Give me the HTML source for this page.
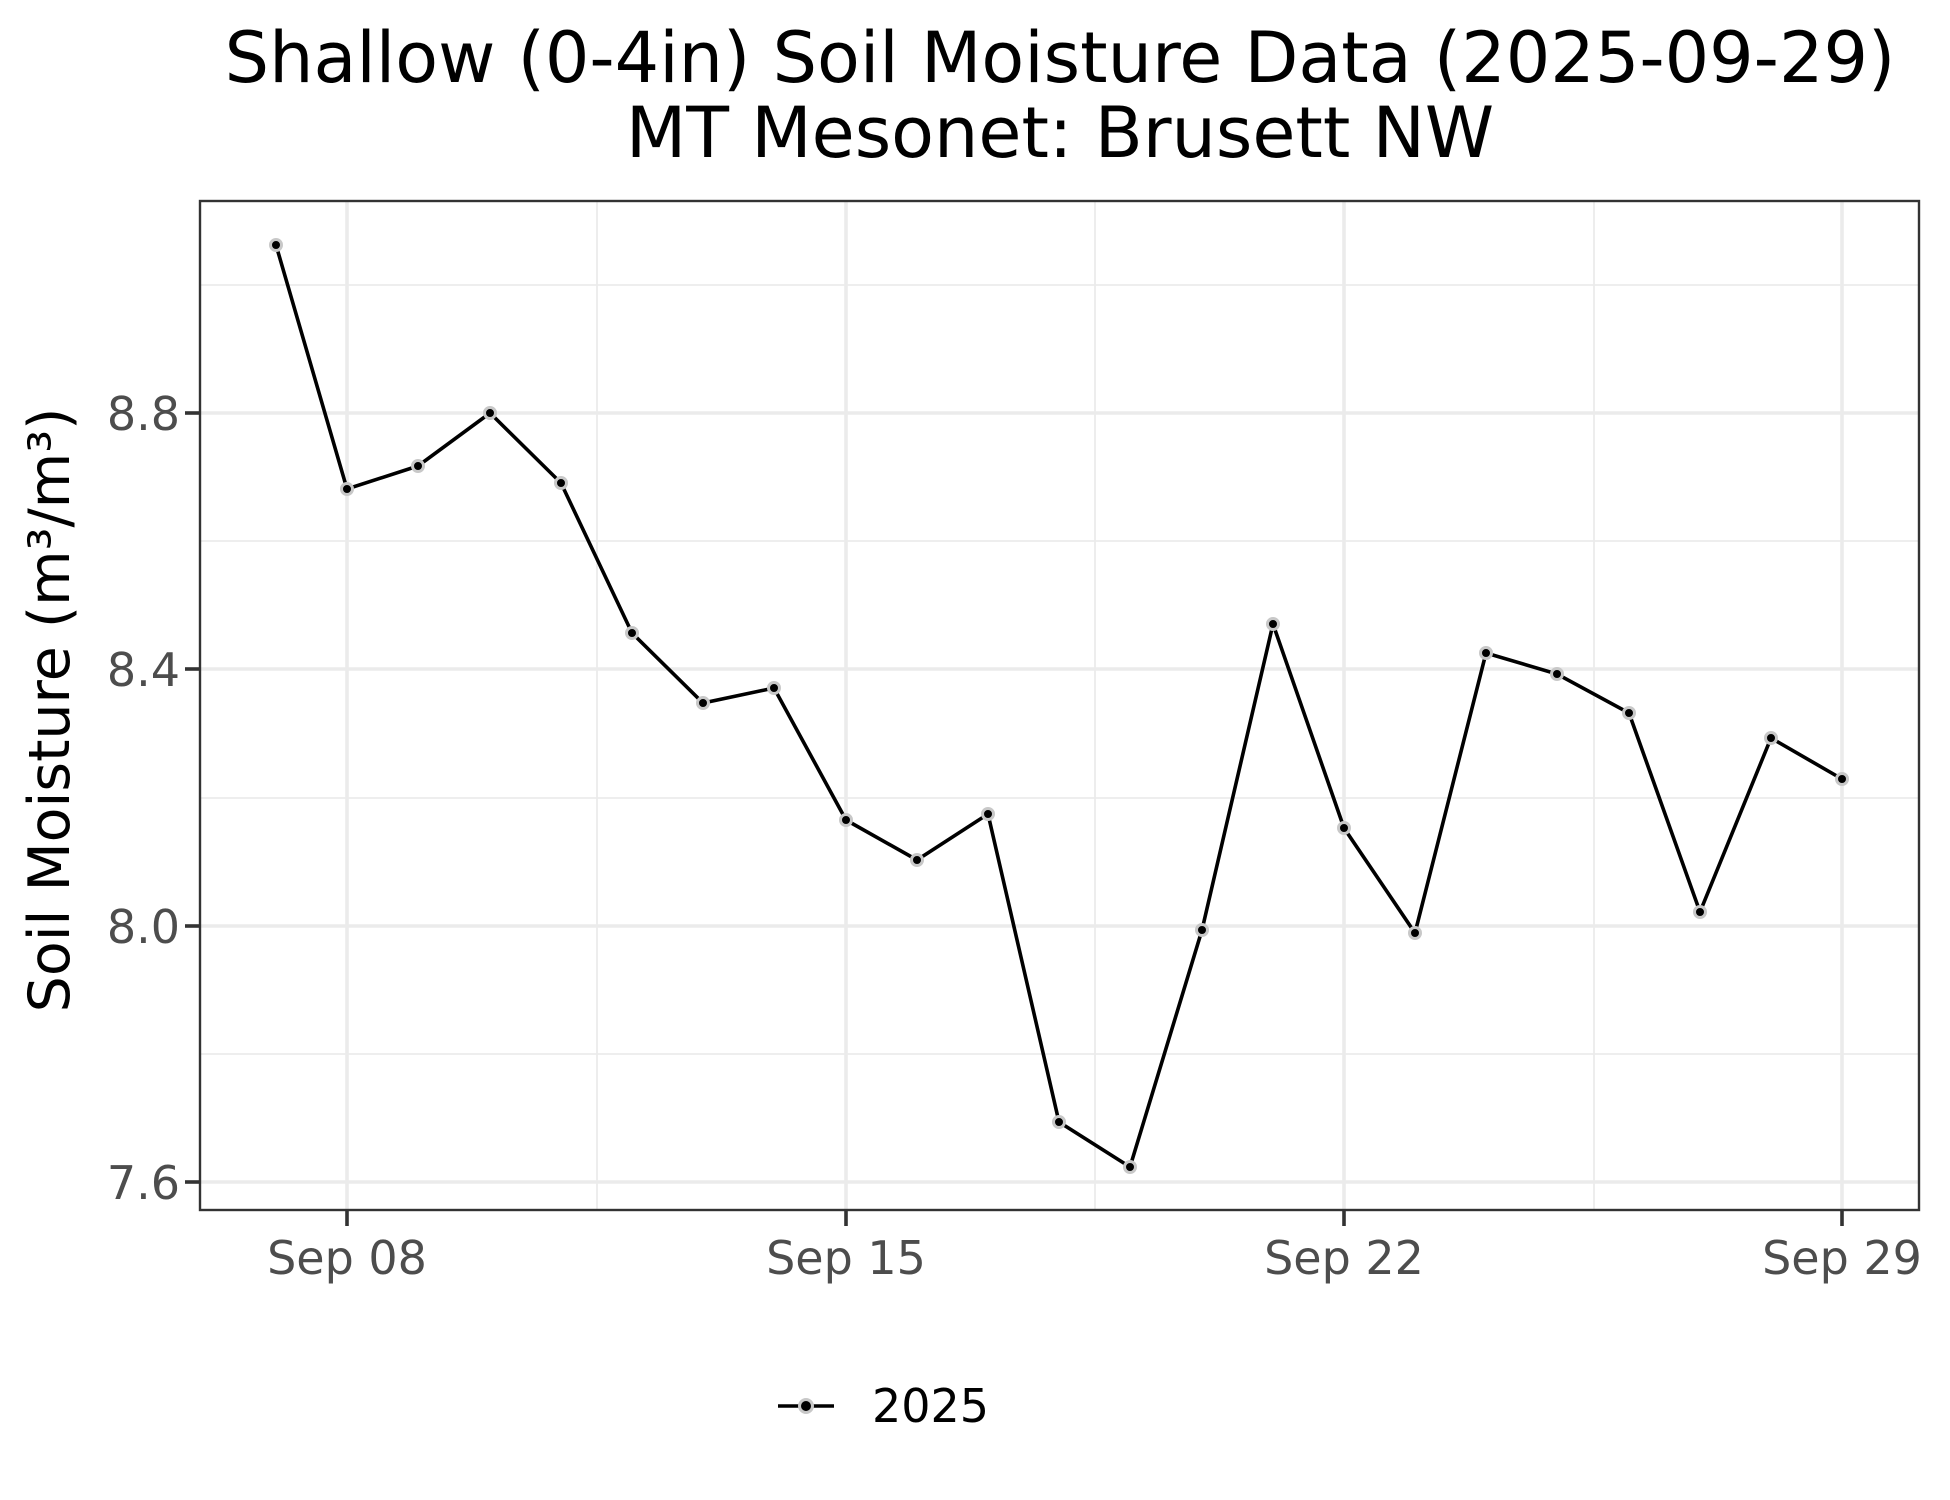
<!DOCTYPE html>
<html><head><meta charset="utf-8"><style>body{margin:0;background:#fff}svg{display:block}</style></head>
<body>
<svg width="1950" height="1500" xmlns="http://www.w3.org/2000/svg" font-family="DejaVu Sans, Liberation Sans, sans-serif">
<rect width="1950" height="1500" fill="#fff"/>
<text x="1060" y="82" font-size="70" text-anchor="middle" fill="#000">Shallow (0-4in) Soil Moisture Data (2025-09-29)</text>
<text x="1060" y="157" font-size="70" text-anchor="middle" fill="#000">MT Mesonet: Brusett NW</text>
<g stroke="#ebebeb" stroke-width="1.8">
<line x1="200" x2="1919" y1="285" y2="285"/>
<line x1="200" x2="1919" y1="541" y2="541"/>
<line x1="200" x2="1919" y1="798" y2="798"/>
<line x1="200" x2="1919" y1="1054" y2="1054"/>
<line x1="597" x2="597" y1="200" y2="1210"/>
<line x1="1095" x2="1095" y1="200" y2="1210"/>
<line x1="1594" x2="1594" y1="200" y2="1210"/>
</g>
<g stroke="#ebebeb" stroke-width="3.6">
<line x1="200" x2="1919" y1="413" y2="413"/>
<line x1="200" x2="1919" y1="669" y2="669"/>
<line x1="200" x2="1919" y1="926" y2="926"/>
<line x1="200" x2="1919" y1="1182" y2="1182"/>
<line x1="347" x2="347" y1="200" y2="1210"/>
<line x1="846" x2="846" y1="200" y2="1210"/>
<line x1="1344" x2="1344" y1="200" y2="1210"/>
<line x1="1842" x2="1842" y1="200" y2="1210"/>
</g>
<polyline fill="none" stroke="#000" stroke-width="3.6" points="276,245 347,489 418,466 490,413 561,483 632,633 703,703 774,688 846,820 917,860 988,814 1059,1122 1130,1167 1202,930 1273,624 1344,828 1415,933 1486,653 1557,674 1629,713 1700,912 1771,738 1842,779"/>
<g fill="#000" stroke="#c8c8c8" stroke-width="3">
<circle cx="276" cy="245" r="5.5"/><circle cx="347" cy="489" r="5.5"/><circle cx="418" cy="466" r="5.5"/><circle cx="490" cy="413" r="5.5"/><circle cx="561" cy="483" r="5.5"/><circle cx="632" cy="633" r="5.5"/><circle cx="703" cy="703" r="5.5"/><circle cx="774" cy="688" r="5.5"/><circle cx="846" cy="820" r="5.5"/><circle cx="917" cy="860" r="5.5"/><circle cx="988" cy="814" r="5.5"/><circle cx="1059" cy="1122" r="5.5"/><circle cx="1130" cy="1167" r="5.5"/><circle cx="1202" cy="930" r="5.5"/><circle cx="1273" cy="624" r="5.5"/><circle cx="1344" cy="828" r="5.5"/><circle cx="1415" cy="933" r="5.5"/><circle cx="1486" cy="653" r="5.5"/><circle cx="1557" cy="674" r="5.5"/><circle cx="1629" cy="713" r="5.5"/><circle cx="1700" cy="912" r="5.5"/><circle cx="1771" cy="738" r="5.5"/><circle cx="1842" cy="779" r="5.5"/>
</g>
<rect x="200" y="201" width="1719" height="1009" fill="none" stroke="#333" stroke-width="2.4"/>
<g stroke="#333" stroke-width="3.6">
<line x1="185" x2="200" y1="413" y2="413"/><line x1="185" x2="200" y1="669" y2="669"/><line x1="185" x2="200" y1="926" y2="926"/><line x1="185" x2="200" y1="1182" y2="1182"/>
<line x1="347" x2="347" y1="1210" y2="1226"/><line x1="846" x2="846" y1="1210" y2="1226"/><line x1="1344" x2="1344" y1="1210" y2="1226"/><line x1="1842" x2="1842" y1="1210" y2="1226"/>
</g>
<g font-size="46" fill="#4d4d4d" text-anchor="end">
<text x="180" y="430">8.8</text><text x="180" y="686">8.4</text><text x="180" y="943">8.0</text><text x="180" y="1199">7.6</text>
</g>
<g font-size="46" fill="#4d4d4d" text-anchor="middle">
<text x="347" y="1274">Sep 08</text><text x="846" y="1274">Sep 15</text><text x="1344" y="1274">Sep 22</text><text x="1842" y="1274">Sep 29</text>
</g>
<text transform="translate(69,710) rotate(-90)" font-size="57" text-anchor="middle" fill="#000">Soil Moisture (m³/m³)</text>
<line x1="778" x2="834" y1="1406" y2="1406" stroke="#000" stroke-width="3.6"/>
<circle cx="806" cy="1406" r="6.5" fill="#000" stroke="#c8c8c8" stroke-width="3"/>
<text x="872" y="1422" font-size="46" fill="#000">2025</text>
</svg>
</body></html>
